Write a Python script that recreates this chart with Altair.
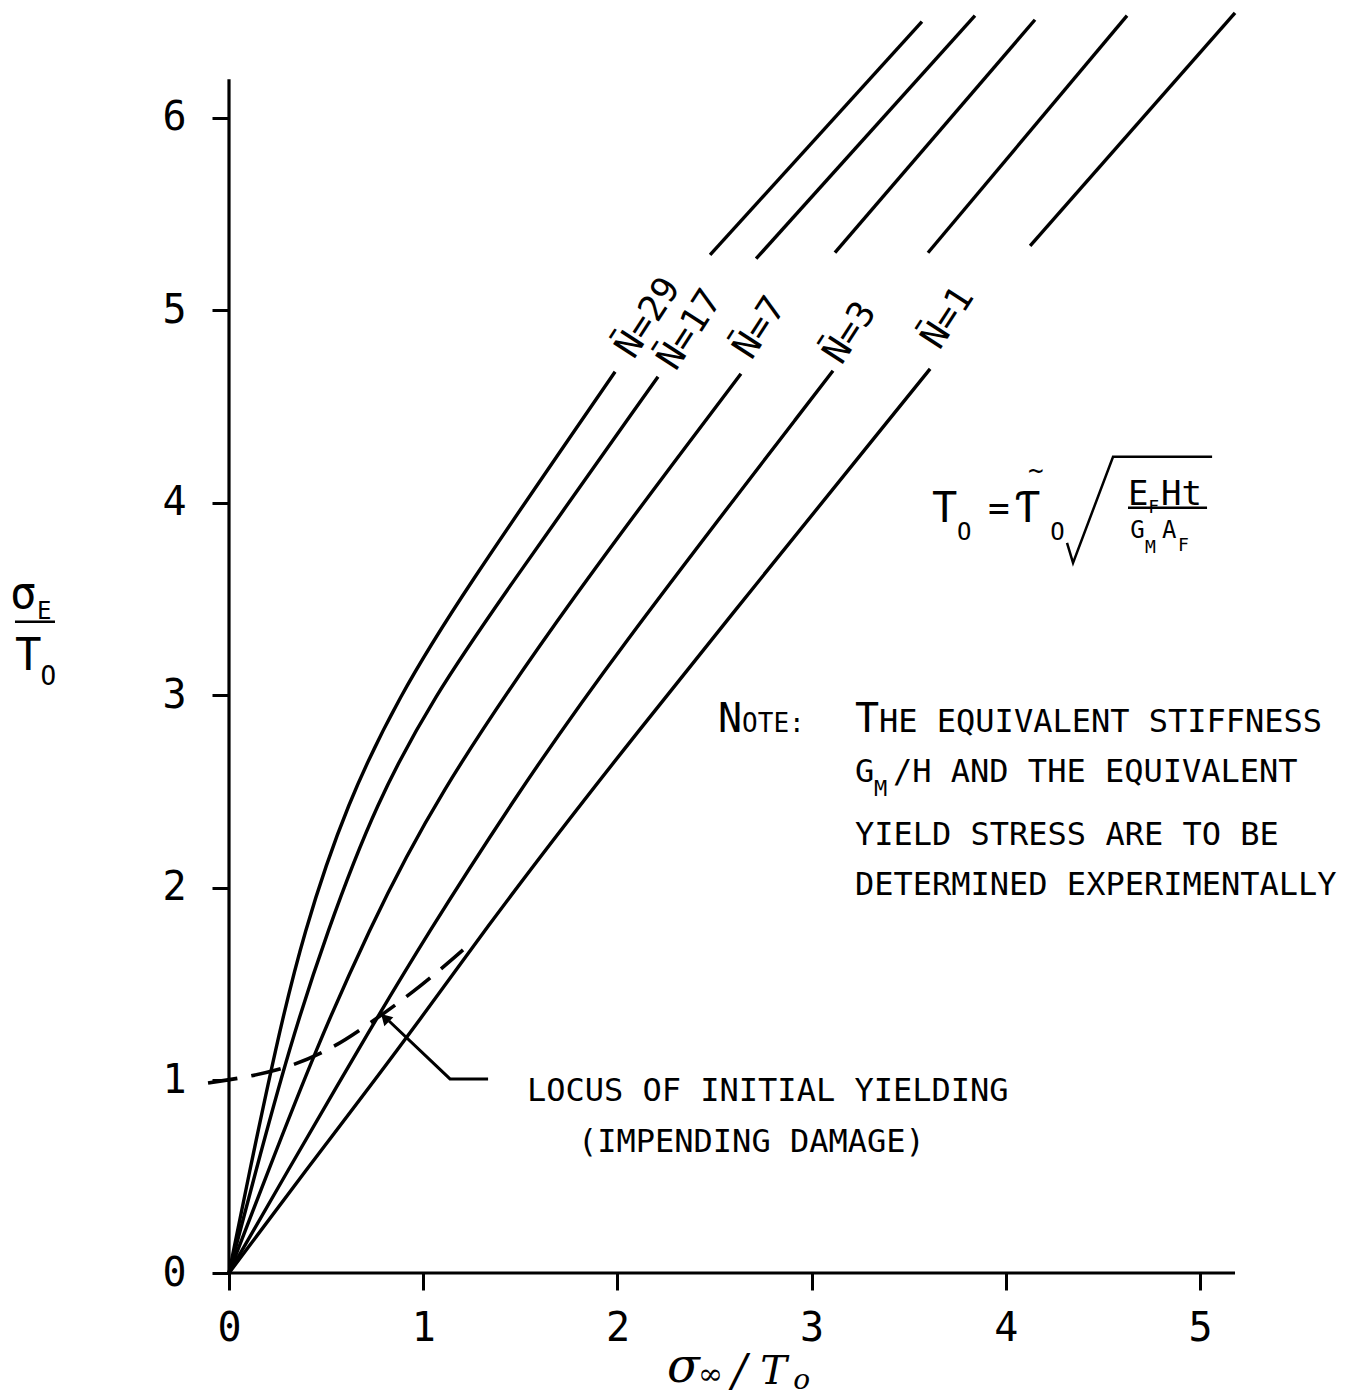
import altair as alt
import pandas as pd

# ---------------- curve data ----------------
curve_names = ["N=29", "N=17", "N=7", "N=3", "N=1"]

# lower (curved) parts, starting at the origin
n29_lo_x = [0, 0.10, 0.24, 0.38, 0.61, 0.88, 1.175, 1.988]
n29_lo_y = [0, 0.50, 1.17, 1.76, 2.45, 3.00, 3.49, 4.681]
n17_lo_x = [0, 0.13, 0.31, 0.50, 0.76, 1.06, 1.39, 2.209]
n17_lo_y = [0, 0.50, 1.17, 1.76, 2.45, 3.00, 3.49, 4.655]
n7_lo_x = [0, 0.19, 0.45, 0.71, 1.05, 1.75, 2.636]
n7_lo_y = [0, 0.50, 1.17, 1.76, 2.45, 3.49, 4.670]
n3_lo_x = [0, 0.285, 0.67, 1.02, 1.46, 1.93, 3.110]
n3_lo_y = [0, 0.50, 1.17, 1.76, 2.45, 3.14, 4.686]
n1_lo_x = [0, 0.37, 0.88, 1.30, 1.93, 3.610]
n1_lo_y = [0, 0.50, 1.17, 1.76, 2.60, 4.696]

# upper (straight) parts, above the labels
n29_up_x = [2.477, 3.568]
n29_up_y = [5.288, 6.499]
n17_up_x = [2.714, 3.841]
n17_up_y = [5.268, 6.530]
n7_up_x = [3.120, 4.150]
n7_up_y = [5.299, 6.509]
n3_up_x = [3.599, 4.624]
n3_up_y = [5.299, 6.530]
n1_up_x = [4.125, 5.180]
n1_up_y = [5.335, 6.545]

# locus of initial yielding (dashed)
locus_x = [-0.108, 0.263, 0.536, 0.675, 0.948, 1.205]
locus_y = [0.987, 1.044, 1.169, 1.262, 1.455, 1.678]

# tick values
x_ticks = [0, 1, 2, 3, 4, 5]
y_ticks = [0, 1, 2, 3, 4, 5, 6]

# curve label positions (centre) and texts
label_texts = ["N\u0304=29", "N\u0304=17", "N\u0304=7", "N\u0304=3", "N\u0304=1"]
label_x = [2.158, 2.374, 2.734, 3.198, 3.702]
label_y = [4.961, 4.899, 4.909, 4.883, 4.961]

# ---------------- build tables ----------------
rows = []
segs = [
    ("N=29", "lo", n29_lo_x, n29_lo_y), ("N=29", "up", n29_up_x, n29_up_y),
    ("N=17", "lo", n17_lo_x, n17_lo_y), ("N=17", "up", n17_up_x, n17_up_y),
    ("N=7", "lo", n7_lo_x, n7_lo_y), ("N=7", "up", n7_up_x, n7_up_y),
    ("N=3", "lo", n3_lo_x, n3_lo_y), ("N=3", "up", n3_up_x, n3_up_y),
    ("N=1", "lo", n1_lo_x, n1_lo_y), ("N=1", "up", n1_up_x, n1_up_y),
]
for name, part, xs_, ys_ in segs:
    for i, (a, b) in enumerate(zip(xs_, ys_)):
        rows.append({"seg": f"{name} {part}", "x": a, "y": b, "i": i})
curves = pd.DataFrame(rows)
locus = pd.DataFrame({"x": locus_x, "y": locus_y, "i": range(len(locus_x))})
labels = pd.DataFrame({"x": label_x, "y": label_y, "text": label_texts})

# annotation text (data coordinates)
ann_text = ["T", "O", "=", "\u01AC", "~", "O", "E", "F", "Ht", "G", "M", "A", "F",
            "\u03C3", "E", "T", "O",
            "N", "OTE:", "T", "HE EQUIVALENT STIFFNESS",
            "G", "M", "/H AND THE EQUIVALENT",
            "YIELD STRESS ARE TO BE", "DETERMINED EXPERIMENTALLY",
            "LOCUS OF INITIAL YIELDING", "(IMPENDING DAMAGE)"]
ann_x = [3.620, 3.749, 3.908, 4.047, 4.114, 4.228, 4.629, 4.733, 4.799, 4.640, 4.717, 4.804, 4.887,
         -1.128, -0.989, -1.102, -0.970,
         2.518, 2.642, 3.223, 3.347,
         3.223, 3.321, 3.419,
         3.223, 3.223,
         1.534, 1.797]
ann_y = [3.900, 3.808, 3.912, 3.900, 4.125, 3.808, 3.990, 3.948, 3.990, 3.818, 3.740, 3.818, 3.751,
         3.455, 3.397, 3.132, 3.055,
         2.810, 2.810, 2.810, 2.810,
         2.551, 2.478, 2.551,
         2.223, 1.964,
         0.894, 0.629]
ann_size = [42, 24, 36, 42, 26, 24, 34, 18, 34, 24, 18, 24, 18,
            44, 24, 44, 26,
            40, 26, 40, 32,
            32, 22, 32,
            32, 32,
            32, 32]
ann = pd.DataFrame({"x": ann_x, "y": ann_y, "text": ann_text, "size": ann_size})

# x-axis title (italic)
xt_text = ["\u03C3", "\u221E", "/", "T", "o"]
xt_x = [2.255, 2.415, 2.590, 2.735, 2.905]
xt_y = [-0.567, -0.578, -0.588, -0.578, -0.600]
xt_size = [48, 30, 44, 40, 28]
xt = pd.DataFrame({"x": xt_x, "y": xt_y, "text": xt_text, "size": xt_size})

# drawn strokes: radical sign, fraction bars, leader line
radical_x = [4.315, 4.346, 4.552, 5.062]
radical_y = [3.792, 3.688, 4.239, 4.239]
leader_x = [1.334, 1.138, 0.824]
leader_y = [1.008, 1.008, 1.309]
radical = pd.DataFrame({"x": radical_x, "y": radical_y, "i": range(4)})
leader = pd.DataFrame({"x": leader_x, "y": leader_y, "i": range(3)})
bars = pd.DataFrame({"x": [4.629, -1.102], "x2": [5.036, -0.896], "y": [3.974, 3.382]})
axis_lines = pd.DataFrame({"x": [0, 0], "x2": [5.18, 0], "y": [0, 0], "y2": [0, 6.2]})
arrow = pd.DataFrame({"x": [0.803], "y": [1.325]})

FONT = "DejaVu Sans Mono"

xs = alt.Scale(domain=[0, 5.252], nice=False, zero=False)
ys = alt.Scale(domain=[0, 6.57], nice=False, zero=False)
xaxis = alt.Axis(values=x_ticks, domain=False, grid=False, tickSize=17, tickWidth=3,
                 tickColor="black", labelFont=FONT, labelFontSize=40, labelColor="black",
                 labelPadding=18, title=None, format="d", labelFlush=False)
yaxis = alt.Axis(values=y_ticks, domain=False, grid=False, tickSize=17, tickWidth=3,
                 tickColor="black", labelFont=FONT, labelFontSize=40, labelColor="black",
                 labelPadding=26, title=None, format="d", labelFlush=False)


def X(f="x"):
    return alt.X(f, type="quantitative", scale=xs, axis=xaxis)


def Y(f="y"):
    return alt.Y(f, type="quantitative", scale=ys, axis=yaxis)


curve_layer = alt.Chart(curves).mark_line(color="black", strokeWidth=3.4,
                                          interpolate="basis").encode(
    x=X(), y=Y(), detail="seg:N", order="i:Q")

locus_layer = alt.Chart(locus).mark_line(color="black", strokeWidth=3.6,
                                         strokeDash=[30, 14], interpolate="basis").encode(
    x=X(), y=Y(), order="i:Q")

axis_layer = alt.Chart(axis_lines).mark_rule(color="black", strokeWidth=3.2).encode(
    x=X(), x2="x2:Q", y=Y(), y2="y2:Q")

label_layer = alt.Chart(labels).mark_text(font=FONT, fontSize=36, angle=303,
                                          align="center", baseline="middle",
                                          color="black").encode(
    x=X(), y=Y(), text="text:N")

ann_layer = alt.Chart(ann).mark_text(font=FONT, align="left", baseline="alphabetic",
                                     color="black").encode(
    x=X(), y=Y(), text="text:N", size=alt.Size("size:Q", scale=None, legend=None))

xt_layer = alt.Chart(xt).mark_text(font="DejaVu Serif", fontStyle="italic", align="left",
                                   baseline="alphabetic", color="black").encode(
    x=X(), y=Y(), text="text:N", size=alt.Size("size:Q", scale=None, legend=None))

radical_layer = alt.Chart(radical).mark_line(color="black", strokeWidth=2.5).encode(
    x=X(), y=Y(), order="i:Q")
leader_layer = alt.Chart(leader).mark_line(color="black", strokeWidth=3).encode(
    x=X(), y=Y(), order="i:Q")
bar_layer = alt.Chart(bars).mark_rule(color="black", strokeWidth=2.5).encode(
    x=X(), x2="x2:Q", y=Y())
arrow_layer = alt.Chart(arrow).mark_point(shape="triangle-up", filled=True, size=160,
                                          angle=315, color="black", opacity=1).encode(
    x=X(), y=Y())

chart = alt.layer(
    axis_layer, curve_layer, locus_layer, leader_layer, arrow_layer,
    radical_layer, bar_layer, label_layer, ann_layer, xt_layer
).properties(
    width=1020, height=1265,
    autosize=alt.AutoSizeParams(type="none"),
    padding={"left": 221, "top": 0, "right": 90, "bottom": 127},
    background="white",
).configure_view(stroke=None)

chart.save("out.html", embed_options={"renderer": "svg", "actions": False})
